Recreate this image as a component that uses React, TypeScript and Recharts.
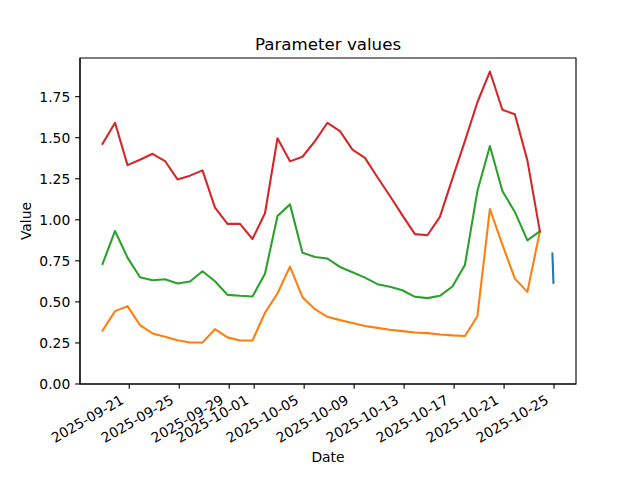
import React from 'react';
import { LineChart, Line, XAxis, YAxis, ReferenceArea } from 'recharts';

const dates: string[] = [
  '2025-09-18T20:45:00Z', '2025-09-19T20:45:00Z', '2025-09-20T20:45:00Z', '2025-09-21T20:45:00Z',
  '2025-09-22T20:45:00Z', '2025-09-23T20:45:00Z', '2025-09-24T20:45:00Z', '2025-09-25T20:45:00Z',
  '2025-09-26T20:45:00Z', '2025-09-27T20:45:00Z', '2025-09-28T20:45:00Z', '2025-09-29T20:45:00Z',
  '2025-09-30T20:45:00Z', '2025-10-01T20:45:00Z', '2025-10-02T20:45:00Z', '2025-10-03T20:45:00Z',
  '2025-10-04T20:45:00Z', '2025-10-05T20:45:00Z', '2025-10-06T20:45:00Z', '2025-10-07T20:45:00Z',
  '2025-10-08T20:45:00Z', '2025-10-09T20:45:00Z', '2025-10-10T20:45:00Z', '2025-10-11T20:45:00Z',
  '2025-10-12T20:45:00Z', '2025-10-13T20:45:00Z', '2025-10-14T20:45:00Z', '2025-10-15T20:45:00Z',
  '2025-10-16T20:45:00Z', '2025-10-17T20:45:00Z', '2025-10-18T20:45:00Z', '2025-10-19T20:45:00Z',
  '2025-10-20T20:45:00Z', '2025-10-21T20:45:00Z', '2025-10-22T20:45:00Z', '2025-10-23T20:45:00Z',
];

const redValues: number[] = [
  1.463, 1.591, 1.333, 1.366, 1.402, 1.358, 1.246, 1.269, 1.301, 1.074, 0.975, 0.975,
  0.883, 1.040, 1.497, 1.356, 1.384, 1.479, 1.591, 1.540, 1.427, 1.377, 1.259, 1.145,
  1.027, 0.913, 0.906, 1.018, 1.251, 1.479, 1.716, 1.903, 1.670, 1.643, 1.362, 0.930,
];

const greenValues: number[] = [
  0.731, 0.932, 0.770, 0.650, 0.632, 0.638, 0.612, 0.624, 0.687, 0.626, 0.543, 0.537,
  0.533, 0.671, 1.023, 1.094, 0.800, 0.774, 0.764, 0.713, 0.681, 0.648, 0.608, 0.592,
  0.571, 0.531, 0.523, 0.537, 0.594, 0.725, 1.175, 1.449, 1.175, 1.048, 0.875, 0.930,
];

const orangeValues: number[] = [
  0.326, 0.444, 0.474, 0.359, 0.308, 0.288, 0.267, 0.253, 0.253, 0.334, 0.284, 0.265,
  0.265, 0.434, 0.551, 0.715, 0.529, 0.456, 0.409, 0.389, 0.371, 0.353, 0.342, 0.330,
  0.322, 0.314, 0.310, 0.302, 0.296, 0.292, 0.413, 1.066, 0.849, 0.642, 0.561, 0.930,
];

const blueDates: string[] = ['2025-10-24T20:50:00Z', '2025-10-24T22:50:00Z'];
const blueValues: number[] = [0.795, 0.616];

const xTickLabels: string[] = [
  '2025-09-21', '2025-09-25', '2025-09-29', '2025-10-01', '2025-10-05',
  '2025-10-09', '2025-10-13', '2025-10-17', '2025-10-21', '2025-10-25',
];
const yTicks: number[] = [0, 0.25, 0.5, 0.75, 1.0, 1.25, 1.5, 1.75];

const toT = (s: string) => Date.parse(s);
const build = (ds: string[], vs: number[]) => ds.map((d, i) => ({ t: toT(d), v: vs[i] }));

const redData = build(dates, redValues);
const greenData = build(dates, greenValues);
const orangeData = build(dates, orangeValues);
const blueData = build(blueDates, blueValues);

const allT = [...dates, ...blueDates].map(toT);
const tMin = Math.min(...allT);
const tMax = Math.max(...allT);
const tPad = 0.05 * (tMax - tMin);
const xDomain: [number, number] = [tMin - tPad, tMax + tPad];

const allV = [...redValues, ...greenValues, ...orangeValues, ...blueValues];
const vMin = Math.min(...allV);
const vMax = Math.max(...allV);
const yDomain: [number, number] = [0, vMax + 0.05 * (vMax - vMin)];

const xTicks = xTickLabels.map((s) => Date.parse(s + 'T00:00:00Z'));
const fmtDate = (t: number) => new Date(t).toISOString().slice(0, 10);

const FONT = 'DejaVu Sans';
const FS = 13.89;

const XTick = (props: any) => {
  const { x, y, payload } = props;
  const bx = x - 4.5;
  const by = y + 9.2;
  return (
    <text
      x={bx}
      y={by}
      transform={`rotate(-30, ${bx}, ${by})`}
      textAnchor="end"
      fontFamily={FONT}
      fontSize={FS}
      fill="#000"
    >
      {fmtDate(payload.value)}
    </text>
  );
};

const lineProps = {
  type: 'linear' as const,
  dataKey: 'v',
  dot: false,
  activeDot: false,
  strokeWidth: 2.08,
  strokeLinejoin: 'round' as const,
  strokeLinecap: 'square' as const,
  isAnimationActive: false,
};

export default function App() {
  return (
    <div style={{ position: 'absolute', left: 0, top: 0, width: 640, height: 480, background: '#fff' }}>
      <LineChart width={640} height={480} margin={{ top: 58, right: 64, bottom: 0, left: 0 }}>
        <ReferenceArea
          x1={xDomain[0]}
          x2={xDomain[1]}
          y1={yDomain[0]}
          y2={yDomain[1]}
          fill="none"
          fillOpacity={0}
          stroke="#000"
          strokeWidth={1.1}
          ifOverflow="extendDomain"
        />
        <XAxis
          type="number"
          dataKey="t"
          domain={xDomain}
          allowDataOverflow
          ticks={xTicks}
          interval={0}
          height={96}
          tickSize={4.86}
          tickMargin={4.86}
          stroke="#000"
          strokeWidth={1.1}
          tick={<XTick />}
        />
        <YAxis
          type="number"
          domain={yDomain}
          allowDataOverflow
          ticks={yTicks}
          interval={0}
          width={80}
          tickSize={4.86}
          tickMargin={4.86}
          stroke="#000"
          strokeWidth={1.1}
          tickFormatter={(v: number) => v.toFixed(2)}
          tick={{ fill: '#000', fontSize: FS, fontFamily: FONT }}
        />
        <Line {...lineProps} data={blueData} stroke="#1f77b4" />
        <Line {...lineProps} data={orangeData} stroke="#ff7f0e" />
        <Line {...lineProps} data={greenData} stroke="#2ca02c" />
        <Line {...lineProps} data={redData} stroke="#d62728" />
      </LineChart>
      <svg
        width={640}
        height={480}
        style={{ position: 'absolute', left: 0, top: 0, pointerEvents: 'none' }}
      >
        <text x={328} y={49.7} textAnchor="middle" fontFamily={FONT} fontSize={16.67} fill="#000">
          Parameter values
        </text>
        <text x={328} y={462} textAnchor="middle" fontFamily={FONT} fontSize={FS} fill="#000">
          Date
        </text>
        <text
          x={30.6}
          y={221}
          transform="rotate(-90, 30.6, 221)"
          textAnchor="middle"
          fontFamily={FONT}
          fontSize={FS}
          fill="#000"
        >
          Value
        </text>
      </svg>
    </div>
  );
}
